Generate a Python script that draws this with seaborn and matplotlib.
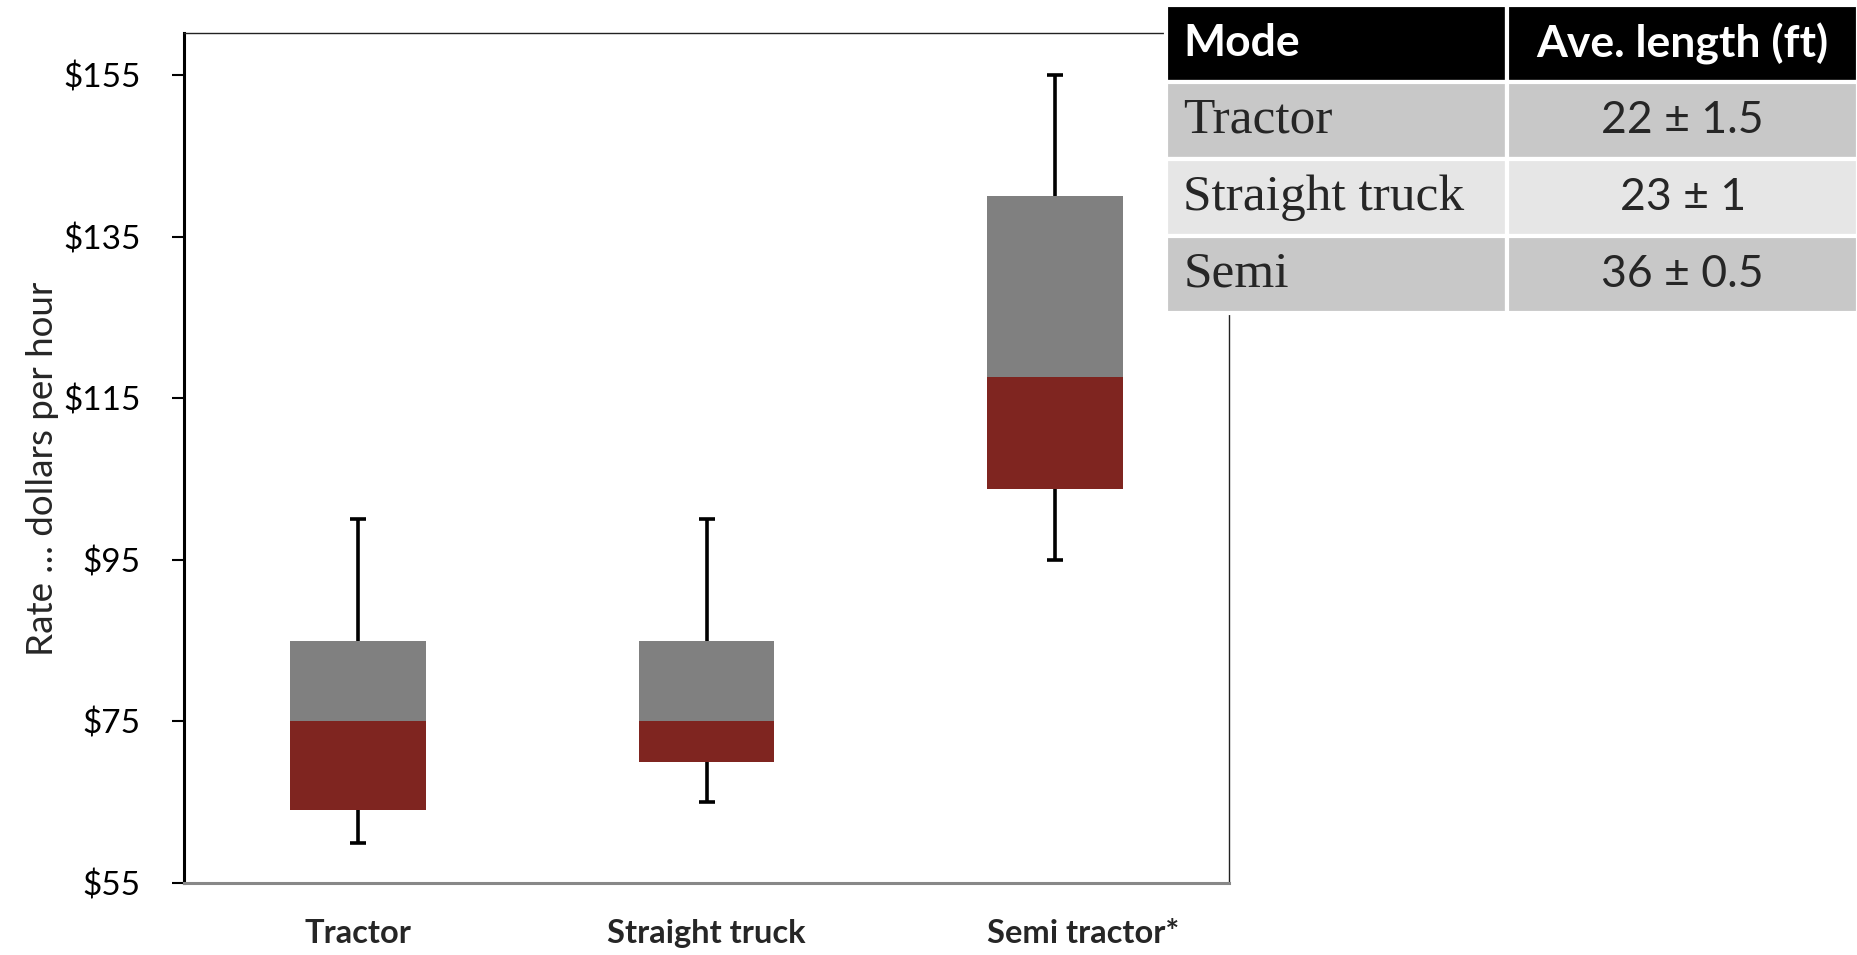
#!/usr/bin/env python3

import matplotlib

matplotlib.use("Agg")
import matplotlib.pyplot as plt
import matplotlib.transforms as mtransforms
import seaborn as sns

# Hourly rate ranges by vehicle mode (dollars per hour)
modes = ["Tractor", "Straight truck", "Semi tractor*"]
whisker_low = [60, 65, 95]
box_low = [64, 70, 103.8]
box_mid = [75, 75, 117.6]
box_high = [85, 85, 140]
whisker_high = [100, 100, 155]

yticks = [55, 75, 95, 115, 135, 155]

# Inset table
table_header = ["Mode", "Ave. length (ft)"]
table_modes = ["Tractor", "Straight truck", "Semi"]
table_lengths = ["22 \u00b1 1.5", "23 \u00b1 1", "36 \u00b1 0.5"]

RED = "#7F2520"
GRAY = "#808080"
SANS = ["Lato", "DejaVu Sans"]


def main():
    sns.set_style("white")
    plt.rcParams["font.family"] = SANS

    fig = plt.figure(figsize=(18.58, 9.55), dpi=100)
    ax = fig.add_axes([0.099, 0.0754, 0.5625, 0.89])

    # lower (red) and upper (gray) part of each box
    lower = [m - b for m, b in zip(box_mid, box_low)]
    upper = [h - m for h, m in zip(box_high, box_mid)]
    sns.barplot(x=modes, y=lower, bottom=box_low, color=RED, saturation=1,
                width=0.39, errorbar=None, ax=ax, zorder=3, linewidth=0)
    sns.barplot(x=modes, y=upper, bottom=box_mid, color=GRAY, saturation=1,
                width=0.39, errorbar=None, ax=ax, zorder=3, linewidth=0)

    # whiskers
    xs = list(range(len(modes)))
    ax.vlines(xs, box_high, whisker_high, color="black", lw=2.6, zorder=2)
    ax.vlines(xs, whisker_low, box_low, color="black", lw=2.6, zorder=2)
    ax.plot(xs, whisker_high, ls="none", marker="_", ms=12, mew=2.6,
            color="black", zorder=2)
    ax.plot(xs, whisker_low, ls="none", marker="_", ms=12, mew=2.6,
            color="black", zorder=2)

    ax.set_xlim(-0.5, 2.5)
    ax.set_ylim(55, 160.2)
    ax.set_yticks(yticks)
    ax.set_yticklabels([f"${v}" for v in yticks], fontsize=24)
    ax.tick_params(axis="y", length=9, width=1.5, pad=22, left=True,
                   direction="out", colors="black")
    ax.tick_params(axis="x", length=0, pad=26)
    for lab in ax.get_xticklabels():
        lab.set_fontweight("bold")
        lab.set_fontsize(23.5)
    # the last label sits a bit right of its box in the original
    shift = mtransforms.ScaledTranslation(0.28, 0, fig.dpi_scale_trans)
    last = ax.get_xticklabels()[-1]
    last.set_transform(last.get_transform() + shift)

    for side in ["top", "right"]:
        ax.spines[side].set_linewidth(1.0)
        ax.spines[side].set_color("#222222")
    ax.spines["left"].set_linewidth(2.2)
    ax.spines["left"].set_color("black")
    ax.spines["bottom"].set_linewidth(2.2)
    ax.spines["bottom"].set_color("#888888")

    ax.set_xlabel("")
    ax.set_ylabel("Rate \u2026 dollars per hour", fontsize=26.5)
    ax.yaxis.set_label_coords(-0.12, 0.487)

    # table drawn in its own axes on top
    tax = fig.add_axes([0.6276, 0.6723, 0.3724, 0.3225])
    tax.axis("off")
    rows = [[m, l] for m, l in zip(table_modes, table_lengths)]
    colours = [["#C8C8C8"] * 2, ["#E6E6E6"] * 2, ["#C8C8C8"] * 2]
    tbl = tax.table(cellText=rows, colLabels=table_header,
                    cellColours=colours, colWidths=[0.493, 0.507],
                    bbox=[0, 0, 1, 1])
    tbl.auto_set_font_size(False)
    for (r, c), cell in tbl.get_celld().items():
        cell.set_edgecolor("white")
        cell.set_linewidth(3)
        cell.PAD = 0.05
        txt = cell.get_text()
        if r == 0:
            cell.set_facecolor("black")
            txt.set_color("white")
            txt.set_fontweight("bold")
            txt.set_fontsize(32)
            txt.set_family(SANS)
        elif c == 0:
            txt.set_fontsize(37)
            txt.set_family(["Liberation Serif", "DejaVu Serif"])
        else:
            txt.set_fontsize(32)
            txt.set_family(SANS)
        if c == 0:
            cell._loc = "left"
            cell.set_text_props(ha="left")
        else:
            cell._loc = "center"
            cell.set_text_props(ha="center")

    fig.savefig("out.png", dpi=100)


if __name__ == "__main__":
    main()
